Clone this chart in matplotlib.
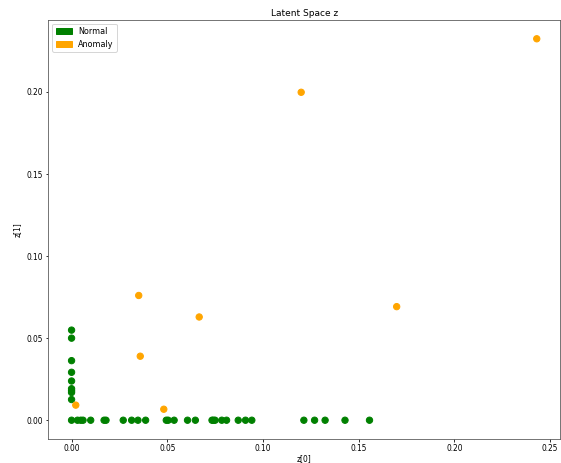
import matplotlib
matplotlib.use("Agg")
import matplotlib.pyplot as plt
import matplotlib.patches as mpatches

# Normal points (green)
normal_x = [0.0, 0.0, 0.0, 0.0, 0.0, 0.0, 0.0, 0.0, 0.0, 0.0,
            0.0031, 0.0048, 0.006, 0.01, 0.017, 0.018, 0.027, 0.0314, 0.0347, 0.0387,
            0.0495, 0.0505, 0.0536, 0.0606, 0.0647, 0.0734, 0.0741, 0.075, 0.0785, 0.081,
            0.0871, 0.0909, 0.0942, 0.1214, 0.127, 0.1325, 0.1429, 0.1557]
normal_y = [0.0549, 0.05, 0.0363, 0.0292, 0.0239, 0.0192, 0.018, 0.0169, 0.0126, 0.0,
            0.0, 0.0, 0.0, 0.0, 0.0, 0.0, 0.0, 0.0, 0.0, 0.0,
            0.0, 0.0, 0.0, 0.0, 0.0, 0.0, 0.0, 0.0, 0.0, 0.0,
            0.0, 0.0, 0.0, 0.0, 0.0, 0.0, 0.0, 0.0]

# Anomaly points (orange)
anomaly_x = [0.0022, 0.0359, 0.0482, 0.0351, 0.0667, 0.1699, 0.12, 0.2431]
anomaly_y = [0.0092, 0.039, 0.0067, 0.076, 0.0629, 0.0692, 0.1998, 0.2324]

# picture looks like a downscaled notebook figure, so shrink everything
plt.rcParams["font.size"] = 7.5
plt.rcParams["axes.titlesize"] = 9
plt.rcParams["legend.fontsize"] = 8
plt.rcParams["xtick.major.size"] = 2.5
plt.rcParams["ytick.major.size"] = 2.5
plt.rcParams["xtick.major.pad"] = 2.5
plt.rcParams["ytick.major.pad"] = 2.5
plt.rcParams["axes.edgecolor"] = "#555555"

fig = plt.figure(figsize=(561 / 72, 463 / 72), dpi=72)
ax = fig.add_axes([48.3 / 561, (463 - 439.3) / 463, (560 - 48.3) / 561, (439.3 - 19.7) / 463])

x_all = normal_x + anomaly_x
y_all = normal_y + anomaly_y
colors = ["green"] * len(normal_x) + ["orange"] * len(anomaly_x)
ax.scatter(x_all, y_all, c=colors, s=40)

ax.set_title("Latent Space z", pad=4)
ax.set_xlabel("z[0]", labelpad=0.5)
ax.set_ylabel("z[1]", labelpad=5)
ax.set_xticks([0.0, 0.05, 0.10, 0.15, 0.20, 0.25])
ax.set_yticks([0.0, 0.05, 0.10, 0.15, 0.20])

normal_patch = mpatches.Patch(color="green", label="Normal")
anomaly_patch = mpatches.Patch(color="orange", label="Anomaly")
ax.legend(handles=[normal_patch, anomaly_patch], loc="upper left")

fig.savefig("out.png", dpi=72)
